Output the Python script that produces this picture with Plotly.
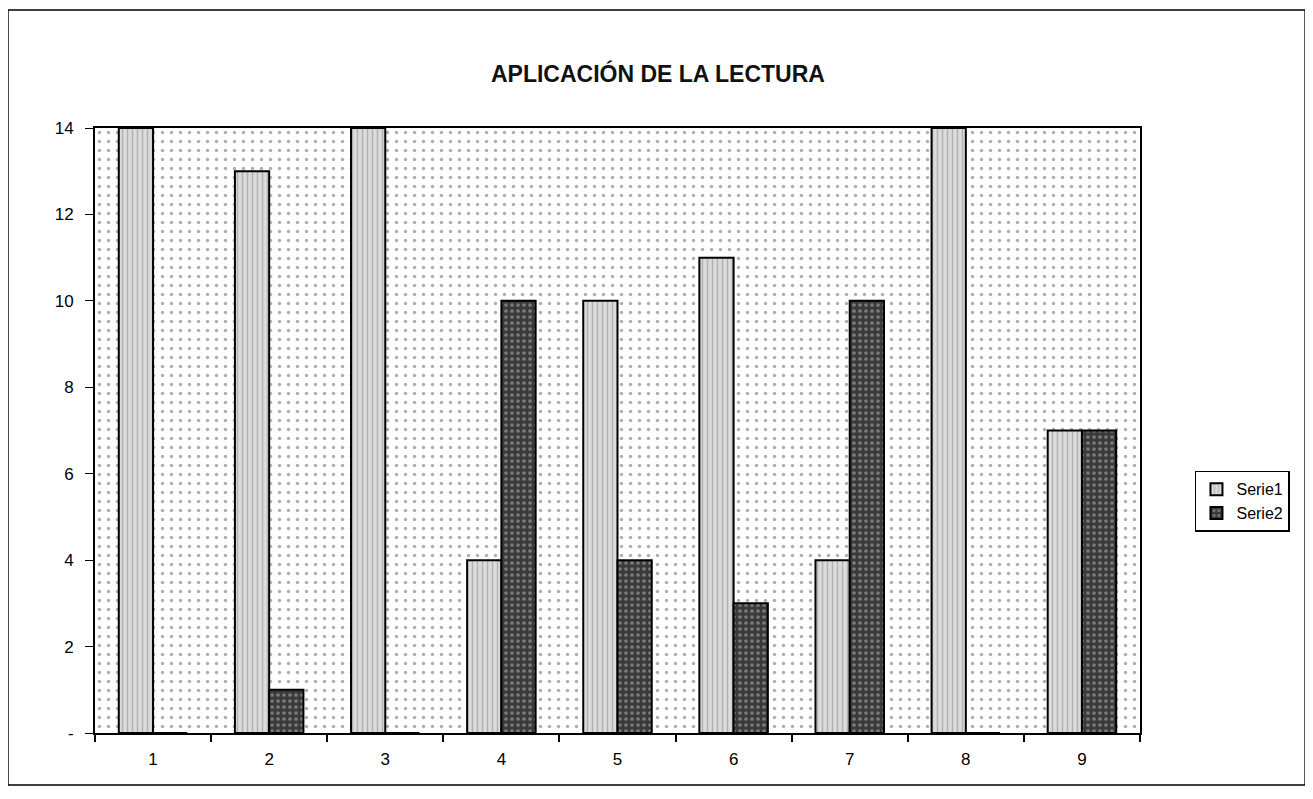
import plotly.graph_objects as go

categories = ["1", "2", "3", "4", "5", "6", "7", "8", "9"]
serie1 = [14, 13, 14, 4, 10, 11, 4, 14, 7]
serie2 = [0, 1, 0, 10, 4, 3, 10, 0, 7]
y_ticks = [0, 2, 4, 6, 8, 10, 12, 14]
y_ticktext = ["-", "2", "4", "6", "8", "10", "12", "14"]

FONT = "Liberation Sans, Arial, sans-serif"

fig = go.Figure()

# dotted plot-area background (on hidden base axis)
fig.add_trace(go.Bar(
    x=[0.5], y=[14], width=[1], xaxis="x", yaxis="y",
    marker=dict(color="white", line=dict(width=0),
                pattern=dict(shape=".", fgcolor="#606060", bgcolor="white",
                             size=9, solidity=0.12)),
    showlegend=False, hoverinfo="skip"))

fig.add_trace(go.Bar(
    name="Serie1", x=categories, y=serie1, xaxis="x2", yaxis="y",
    marker=dict(color="#d0d0d0", line=dict(color="black", width=2),
                pattern=dict(shape="|", fgcolor="#8a8a8a", bgcolor="#dcdcdc",
                             size=5, solidity=0.3))))
fig.add_trace(go.Bar(
    name="Serie2", x=categories, y=serie2, xaxis="x2", yaxis="y",
    marker=dict(color="#404040", line=dict(color="black", width=2),
                pattern=dict(shape=".", fgcolor="#bbbbbb", bgcolor="#3a3a3a",
                             size=6, solidity=0.3))))

fig.update_layout(
    width=1313, height=799,
    paper_bgcolor="white", plot_bgcolor="white",
    margin=dict(l=87, r=181, t=120, b=74),
    font=dict(family=FONT, size=17, color="black"),
    title=dict(text="<b>APLICACIÓN DE LA LECTURA</b>", x=0.495, xanchor="center",
               y=0.917, yanchor="middle",
               font=dict(family=FONT, size=23, color="#111111")),
    barmode="group", bargap=0.41, bargroupgap=0,
    xaxis=dict(range=[0, 1], visible=False, fixedrange=True),
    xaxis2=dict(overlaying="x", side="bottom", type="category",
                tickson="boundaries", ticks="outside", ticklen=7,
                tickcolor="black", tickwidth=2, layer="above traces",
                ticklabelstandoff=10,
                showline=True, linecolor="black", linewidth=2, mirror=True,
                showgrid=False, tickfont=dict(size=17)),
    yaxis=dict(range=[0, 14], tickvals=y_ticks, ticktext=y_ticktext,
               ticks="outside", ticklen=8, tickcolor="black", tickwidth=1,
               ticklabelstandoff=8, layer="above traces",
               showline=True, linecolor="black", linewidth=2, mirror=True,
               showgrid=False, zeroline=False, tickfont=dict(size=17)),
    legend=dict(x=1.0526, y=0.383, xanchor="left", yanchor="middle",
                bordercolor="black", borderwidth=1.5, bgcolor="white",
                font=dict(size=16), itemwidth=30, tracegroupgap=2),
    shapes=[dict(type="rect", xref="paper", yref="paper",
                 x0=-0.0833, x1=1.158, y0=-0.086, y1=1.195,
                 line=dict(color="black", width=1.5))],
)

fig.write_html("out.html")
